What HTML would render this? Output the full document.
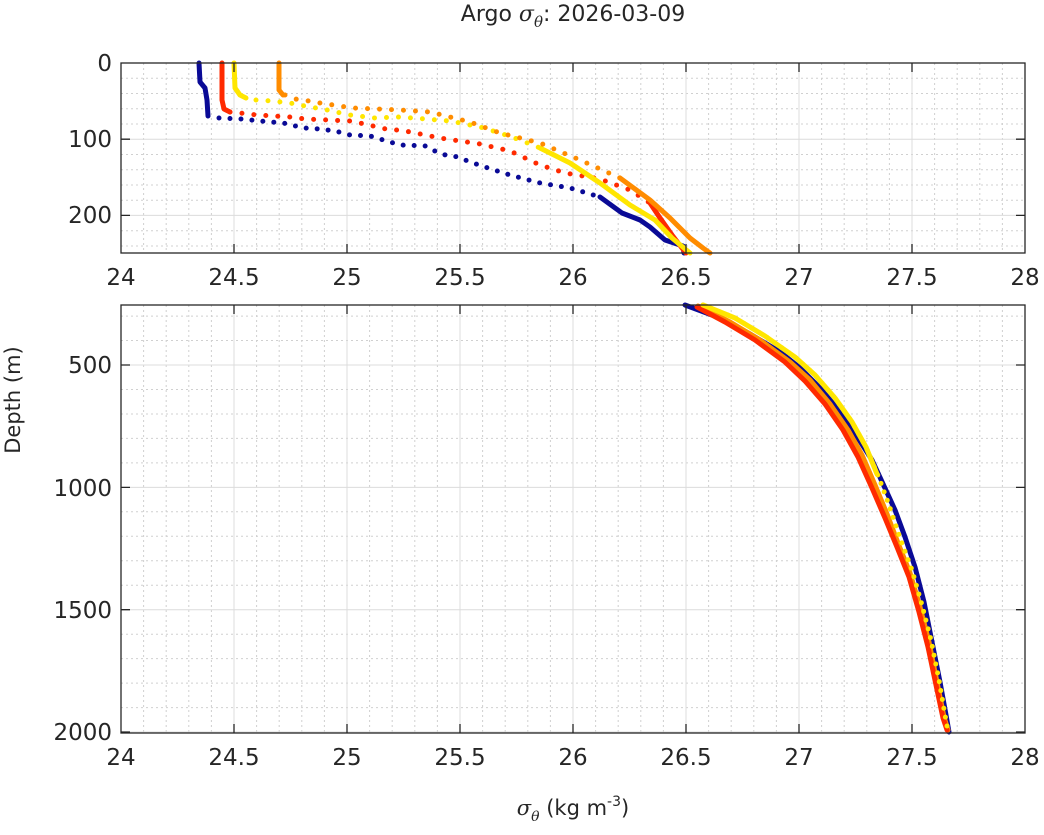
<!DOCTYPE html>
<html><head><meta charset="utf-8"><style>
body{margin:0;background:#fff;}
svg{display:block;font-family:"DejaVu Sans","Liberation Sans",sans-serif;}
</style></head><body>
<svg width="1044" height="835" viewBox="0 0 1044 835" xmlns="http://www.w3.org/2000/svg">
<rect width="1044" height="835" fill="#fff"/>
<text x="573" y="21" font-size="22" text-anchor="middle" fill="#262626">Argo <tspan font-family="DejaVu Serif" font-style="italic">σ</tspan><tspan font-family="DejaVu Serif" font-style="italic" font-size="15" dy="6">θ</tspan><tspan dy="-6">: 2026-03-09</tspan></text>

<g id="top">
<g stroke="#d0d0d0" stroke-width="1" stroke-dasharray="2 3">
<path d="M143.6 63V253M166.2 63V253M188.8 63V253M211.4 63V253M256.6 63V253M279.2 63V253M301.8 63V253M324.4 63V253M369.6 63V253M392.2 63V253M414.8 63V253M437.4 63V253M482.6 63V253M505.2 63V253M527.8 63V253M550.4 63V253M595.6 63V253M618.2 63V253M640.8 63V253M663.4 63V253M708.6 63V253M731.2 63V253M753.8 63V253M776.4 63V253M821.6 63V253M844.2 63V253M866.8 63V253M889.4 63V253M934.6 63V253M957.2 63V253M979.8 63V253M1002.4 63V253"/>
<path d="M121 78.2H1025M121 93.5H1025M121 108.7H1025M121 124H1025M121 154.5H1025M121 169.7H1025M121 185H1025M121 200.2H1025M121 230.7H1025M121 246H1025"/>
</g>
<g stroke="#dcdcdc" stroke-width="1">
<path d="M234 63V253M347 63V253M460 63V253M573 63V253M686 63V253M799 63V253M912 63V253M121 139.2H1025M121 215.4H1025"/>
</g>
<g fill="none" stroke-linecap="round" stroke-linejoin="round">
<path d="M199 63L200 82L205 88L207 100L208 116" stroke="#0a0a96" stroke-width="5"/>
<path d="M219 118L242 119L260 121L283 123L304 128L320 129L335 131L350 135L370 136L400 145L426 146L440 154L458 157L470 162L488 168L510 175L540 183L570 188L600 197" stroke="#0a0a96" stroke-width="5" stroke-dasharray="0 11"/>
<path d="M600 197L622 213L640 220L650 227L665 240L683 246L684 253" stroke="#0a0a96" stroke-width="5"/>
<path d="M222 63L222 100L224 109L230 112" stroke="#ff2a00" stroke-width="5"/>
<path d="M230 112L240 113L257 115L290 117L305 119L350 121L360 123L390 130L400 130L440 138L480 144L510 151L540 165L565 173L600 179L630 190L650 203" stroke="#ff2a00" stroke-width="5" stroke-dasharray="0 12"/>
<path d="M650 203L660 218L672 235L682 248L686 253" stroke="#ff2a00" stroke-width="5"/>
<path d="M234 63L235 88L240 95L246 98" stroke="#ffe600" stroke-width="5"/>
<path d="M256 100L272 101L290 103L305 106L327 110L350 115L375 118L400 117L450 121L480 127L500 133L520 140L540 148" stroke="#ffe600" stroke-width="5" stroke-dasharray="0 12"/>
<path d="M540 148L570 163L600 183L630 205L655 220L672 238L690 253" stroke="#ffe600" stroke-width="5"/>
<path d="M279 63L279 90L283 95" stroke="#ff8c00" stroke-width="5"/>
<path d="M285 95L295 99L309 101L320 103L333 105L353 108L378 109L400 110L430 112L470 122L500 133L540 143L580 160L620 178" stroke="#ff8c00" stroke-width="5" stroke-dasharray="0 12"/>
<path d="M620 178L650 200L670 218L690 238L703 248L710 253" stroke="#ff8c00" stroke-width="5"/>
</g>
<rect x="121" y="63" width="904" height="190" fill="none" stroke="#262626" stroke-width="1.3"/>
<g stroke="#262626" stroke-width="1.3"><path d="M234 253v-9M347 253v-9M460 253v-9M573 253v-9M686 253v-9M799 253v-9M912 253v-9M234 63v9M347 63v9M460 63v9M573 63v9M686 63v9M799 63v9M912 63v9M121 139.2h9M121 215.4h9M1025 139.2h-9M1025 215.4h-9"/></g>
<g font-size="23" fill="#262626" text-anchor="end">
<text x="112" y="71">0</text><text x="112" y="147">100</text><text x="112" y="223">200</text>
</g>
<g font-size="23" fill="#262626" text-anchor="middle">
<text x="121" y="285">24</text><text x="234" y="285">24.5</text><text x="347" y="285">25</text><text x="460" y="285">25.5</text><text x="573" y="285">26</text><text x="686" y="285">26.5</text><text x="799" y="285">27</text><text x="912" y="285">27.5</text><text x="1025" y="285">28</text>
</g>
</g>

<g id="bot">
<g stroke="#d0d0d0" stroke-width="1" stroke-dasharray="2 3">
<path d="M143.6 305V733M166.2 305V733M188.8 305V733M211.4 305V733M256.6 305V733M279.2 305V733M301.8 305V733M324.4 305V733M369.6 305V733M392.2 305V733M414.8 305V733M437.4 305V733M482.6 305V733M505.2 305V733M527.8 305V733M550.4 305V733M595.6 305V733M618.2 305V733M640.8 305V733M663.4 305V733M708.6 305V733M731.2 305V733M753.8 305V733M776.4 305V733M821.6 305V733M844.2 305V733M866.8 305V733M889.4 305V733M934.6 305V733M957.2 305V733M979.8 305V733M1002.4 305V733"/>
<path d="M121 316.1H1025M121 340.5H1025M121 389.5H1025M121 414H1025M121 438.4H1025M121 462.9H1025M121 511.8H1025M121 536.3H1025M121 560.8H1025M121 585.2H1025M121 634.2H1025M121 658.6H1025M121 683.1H1025M121 707.6H1025"/>
</g>
<g stroke="#dcdcdc" stroke-width="1">
<path d="M234 305V733M347 305V733M460 305V733M573 305V733M686 305V733M799 305V733M912 305V733M121 365H1025M121 487.4H1025M121 609.7H1025M121 732H1025"/>
</g>
<g fill="none" stroke-linecap="round" stroke-linejoin="round" stroke-width="5">
<path d="M685 305L720 318L750 334L780 352L800 368L820 388L840 412L858 438L872 460L884 486L895 510L905 537L915 567L924 602L932 642L940 682L946 715L949 732" stroke="#0a0a96"/>
<path d="M698 306L730 322L760 340L790 362L810 380L830 404L848 430L862 455L875 485L887 514L898 543L910 573L920 607L929 642L937 682L944 717L948 730" stroke="#ff8c00"/>
<path d="M697 307L725 322L755 340L785 362L805 381L825 404L843 430L858 457L872 488L885 518L897 547L909 577L919 612L928 647L936 685L943 718L947 730" stroke="#ff2a00"/>
<path d="M703 305L735 318L765 336L795 357L815 375L835 398L852 422L866 447L879 478L889 505L900 538L912 570L922 605L931 640L939 680L945 715L948 731" stroke="#ffe600" stroke-dasharray="0 9"/>
<path d="M703 305L735 318L765 336L795 357L815 375L835 398L852 422L866 447L877 474" stroke="#ffe600"/>
</g>
<rect x="121" y="305" width="904" height="428" fill="none" stroke="#262626" stroke-width="1.3"/>
<g stroke="#262626" stroke-width="1.3"><path d="M234 733v-9M347 733v-9M460 733v-9M573 733v-9M686 733v-9M799 733v-9M912 733v-9M234 305v9M347 305v9M460 305v9M573 305v9M686 305v9M799 305v9M912 305v9M121 365h9M121 487.4h9M121 609.7h9M121 732h9M1025 365h-9M1025 487.4h-9M1025 609.7h-9M1025 732h-9"/></g>
<g font-size="23" fill="#262626" text-anchor="end">
<text x="112" y="373">500</text><text x="112" y="496">1000</text><text x="112" y="618">1500</text><text x="112" y="740">2000</text>
</g>
<g font-size="23" fill="#262626" text-anchor="middle">
<text x="121" y="765">24</text><text x="234" y="765">24.5</text><text x="347" y="765">25</text><text x="460" y="765">25.5</text><text x="573" y="765">26</text><text x="686" y="765">26.5</text><text x="799" y="765">27</text><text x="912" y="765">27.5</text><text x="1025" y="765">28</text>
</g>
</g>

<text transform="translate(20,400) rotate(-90)" font-size="21" fill="#262626" text-anchor="middle">Depth (m)</text>
<text x="573" y="815" font-size="21" fill="#262626" text-anchor="middle"><tspan font-family="DejaVu Serif" font-style="italic">σ</tspan><tspan font-family="DejaVu Serif" font-style="italic" font-size="14" dy="6">θ</tspan><tspan dy="-6"> (kg m</tspan><tspan font-size="14" dy="-9">-3</tspan><tspan dy="9">)</tspan></text>
</svg>
</body></html>
